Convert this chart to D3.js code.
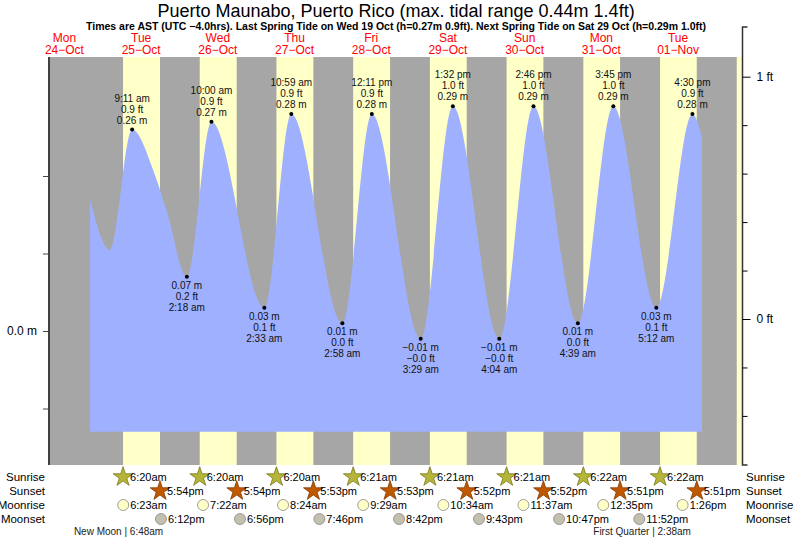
<!DOCTYPE html>
<html><head><meta charset="utf-8">
<script src="https://cdn.jsdelivr.net/npm/d3@7"></script>
<style>body{margin:0;background:#fff}text{font-family:"Liberation Sans",Arial,sans-serif}</style>
</head><body><svg id="c" width="793" height="539"></svg>
<script>
const tideTimes=["2022-10-24T20:00","2022-10-25T02:15","2022-10-25T09:11","2022-10-25T16:00","2022-10-25T20:00","2022-10-26T02:18","2022-10-26T10:00","2022-10-27T02:33","2022-10-27T10:59","2022-10-28T02:58","2022-10-28T12:11","2022-10-29T03:29","2022-10-29T13:32","2022-10-30T04:04","2022-10-30T14:46","2022-10-31T04:39","2022-10-31T15:45","2022-11-01T05:12","2022-11-01T16:30","2022-11-01T19:30"];
const tideHeights=[0.169,0.105,0.26,0.205,0.155,0.07,0.27,0.03,0.28,0.01,0.28,-0.01,0.29,-0.01,0.29,0.01,0.29,0.03,0.28,0.25];
const extIdx=[2,5,6,7,8,9,10,11,12,13,14,15,16,17,18];
const extType=["H","L","H","L","H","L","H","L","H","L","H","L","H","L","H"];
const extM=["0.26 m","0.07 m","0.27 m","0.03 m","0.28 m","0.01 m","0.28 m","\u22120.01 m","0.29 m","\u22120.01 m","0.29 m","0.01 m","0.29 m","0.03 m","0.28 m"];
const extFt=["0.9 ft","0.2 ft","0.9 ft","0.1 ft","0.9 ft","0.0 ft","0.9 ft","\u22120.0 ft","1.0 ft","\u22120.0 ft","1.0 ft","0.0 ft","1.0 ft","0.1 ft","0.9 ft"];
const extT=["9:11 am","2:18 am","10:00 am","2:33 am","10:59 am","2:58 am","12:11 pm","3:29 am","1:32 pm","4:04 am","2:46 pm","4:39 am","3:45 pm","5:12 am","4:30 pm"];
const dayNames=["Mon","Tue","Wed","Thu","Fri","Sat","Sun","Mon","Tue"];
const dayDates=["24\u2212Oct","25\u2212Oct","26\u2212Oct","27\u2212Oct","28\u2212Oct","29\u2212Oct","30\u2212Oct","31\u2212Oct","01\u2212Nov"];
const dayStart=["2022-10-24","2022-10-25","2022-10-26","2022-10-27","2022-10-28","2022-10-29","2022-10-30","2022-10-31","2022-11-01"];
const sunrise=["2022-10-25T06:20","2022-10-26T06:20","2022-10-27T06:20","2022-10-28T06:21","2022-10-29T06:21","2022-10-30T06:21","2022-10-31T06:22","2022-11-01T06:22","2022-11-02T06:22"];
const sunriseLbl=["6:20am","6:20am","6:20am","6:21am","6:21am","6:21am","6:22am","6:22am"];
const sunset=["2022-10-25T17:54","2022-10-26T17:54","2022-10-27T17:53","2022-10-28T17:53","2022-10-29T17:52","2022-10-30T17:52","2022-10-31T17:51","2022-11-01T17:51","2022-11-02T17:51"];
const sunsetLbl=["5:54pm","5:54pm","5:53pm","5:53pm","5:52pm","5:52pm","5:51pm","5:51pm"];
const moonrise=["2022-10-25T06:23","2022-10-26T07:22","2022-10-27T08:24","2022-10-28T09:29","2022-10-29T10:34","2022-10-30T11:37","2022-10-31T12:35","2022-11-01T13:26"];
const moonriseLbl=["6:23am","7:22am","8:24am","9:29am","10:34am","11:37am","12:35pm","1:26pm"];
const moonset=["2022-10-25T18:12","2022-10-26T18:56","2022-10-27T19:46","2022-10-28T20:42","2022-10-29T21:43","2022-10-30T22:47","2022-10-31T23:52"];
const moonsetLbl=["6:12pm","6:56pm","7:46pm","8:42pm","9:43pm","10:47pm","11:52pm"];
const phases=["2022-10-25T06:48","2022-11-01T02:38"];
const phaseLbl=["New Moon | 6:48am","First Quarter | 2:38am"];
const ftTicks=[0,1];

const P=s=>new Date(s);
const svg=d3.select("#c");
const L=50,R=736,T=57,B=465;
const x=d3.scaleTime().domain([P("2022-10-25T00:00"),P("2022-10-26T00:00")]).range([102.8,179.5]);
const y=d3.scaleLinear().domain([0,0.1]).range([331,253.5]);
const yft=d3.scaleLinear().domain([0,1]).range([319,76.7]);

svg.append("defs").append("clipPath").attr("id","pc").append("rect").attr("x",L).attr("y",T).attr("width",R-L+6).attr("height",B-T);
const g=svg.append("g").attr("clip-path","url(#pc)");
g.append("rect").attr("x",L).attr("y",T).attr("width",R-L).attr("height",B-T).attr("fill","#a6a6a6");
g.append("rect").attr("x",R).attr("y",T).attr("width",6).attr("height",B-T).attr("fill","#a6a6a6");
sunrise.forEach((s,i)=>g.append("rect").attr("x",x(P(s))).attr("y",T).attr("width",x(P(sunset[i]))-x(P(s))).attr("height",B-T).attr("fill","#ffffc8"));

const pts=tideTimes.map((t,i)=>[P(t),tideHeights[i]]);
g.append("path").datum(pts).attr("fill","#9fb0fe")
 .attr("d",d3.area().x(d=>x(d[0])).y0(y(-0.13)).y1(d=>y(d[1])).curve(d3.curveMonotoneX));

extIdx.forEach((k,j)=>{
  const px=x(pts[k][0]),py=y(pts[k][1]);
  svg.append("circle").attr("cx",px).attr("cy",py).attr("r",2).attr("fill","#000");
  const lines=extType[j]==="H"?[extT[j],extFt[j],extM[j]]:[extM[j],extFt[j],extT[j]];
  lines.forEach((s,n)=>{
    const yy=extType[j]==="H"?py-6-(2-n)*11:py+12+n*11;
    svg.append("text").attr("x",px).attr("y",yy).attr("text-anchor","middle").attr("font-size",10).attr("fill","#111").text(s);
  });
});

const ay=d3.axisLeft(y).tickValues([-0.1,0,0.1,0.2]).tickSize(6).tickFormat(d=>d===0?"0.0 m":"");
const ga=svg.append("g").attr("transform",`translate(${L-1},0)`).call(ay);
ga.select(".domain").attr("d",`M0,${T}V${B}`).attr("stroke","#000").attr("stroke-width",1.5);
ga.selectAll("text").attr("font-size",12).attr("x",-12);
ga.selectAll("line").attr("stroke","#444");
const ar=d3.axisRight(yft).tickValues(d3.range(-0.4,1.61,0.2).map(v=>+v.toFixed(1))).tickSize(5).tickFormat(d=>ftTicks.includes(d)?d+" ft":"");
const gr=svg.append("g").attr("transform","translate(742.5,0)").call(ar);
gr.select(".domain").attr("d",`M5,27H0V${B}H5`).attr("stroke","#333").attr("stroke-width",1.5);
gr.selectAll(".tick").filter(d=>ftTicks.includes(d)).select("line").attr("x2",8);
gr.selectAll(".tick").filter(d=>d>1.05).remove();
gr.selectAll("text").attr("font-size",12).attr("x",14);

svg.append("text").attr("x",396).attr("y",17).attr("text-anchor","middle").attr("font-size",18).text("Puerto Maunabo, Puerto Rico (max. tidal range 0.44m 1.4ft)");
svg.append("text").attr("x",396).attr("y",30).attr("text-anchor","middle").attr("font-size",10.5).attr("font-weight","bold").text("Times are AST (UTC \u22124.0hrs). Last Spring Tide on Wed 19 Oct (h=0.27m 0.9ft). Next Spring Tide on Sat 29 Oct (h=0.29m 1.0ft)");
dayStart.forEach((d,i)=>{
  const cx=x(d3.timeHour.offset(P(d+"T00:00"),12));
  svg.append("text").attr("x",cx).attr("y",42).attr("text-anchor","middle").attr("font-size",12).attr("fill","#f00").text(dayNames[i]);
  svg.append("text").attr("x",cx).attr("y",54).attr("text-anchor","middle").attr("font-size",12).attr("fill","#f00").text(dayDates[i]);
});

const rows=[["Sunrise",481],["Sunset",495],["Moonrise",509],["Moonset",523]];
rows.forEach(([n,yy])=>{
  svg.append("text").attr("x",45).attr("y",yy).attr("text-anchor","end").attr("font-size",11.5).text(n);
  svg.append("text").attr("x",746).attr("y",yy).attr("font-size",11.5).text(n);
});
const star=d3.symbol().type(d3.symbolStar).size(120);
function iconRow(times,lbls,yy,kind,fill,stroke){
  lbls.forEach((l,i)=>{
    const px=x(P(times[i]));
    if(kind==="star") svg.append("path").attr("d",star()).attr("transform",`translate(${px},${yy-4})`).attr("fill",fill).attr("stroke",stroke).attr("stroke-width",0.8);
    else svg.append("circle").attr("cx",px).attr("cy",yy-4).attr("r",5.5).attr("fill",fill).attr("stroke","#888").attr("stroke-width",0.8);
    svg.append("text").attr("x",px+7).attr("y",yy).attr("font-size",11).text(l);
  });
}
iconRow(sunrise,sunriseLbl,481,"star","#b5b53a","#77771a");
iconRow(sunset,sunsetLbl,495,"star","#c05800","#803800");
iconRow(moonrise,moonriseLbl,509,"c","#ffffc8");
iconRow(moonset,moonsetLbl,523,"c","#c4c0b0");
phases.forEach((p,i)=>svg.append("text").attr("x",x(P(p))-6).attr("y",535).attr("text-anchor","middle").attr("font-size",10).attr("fill","#222").text(phaseLbl[i]));
</script></body></html>
